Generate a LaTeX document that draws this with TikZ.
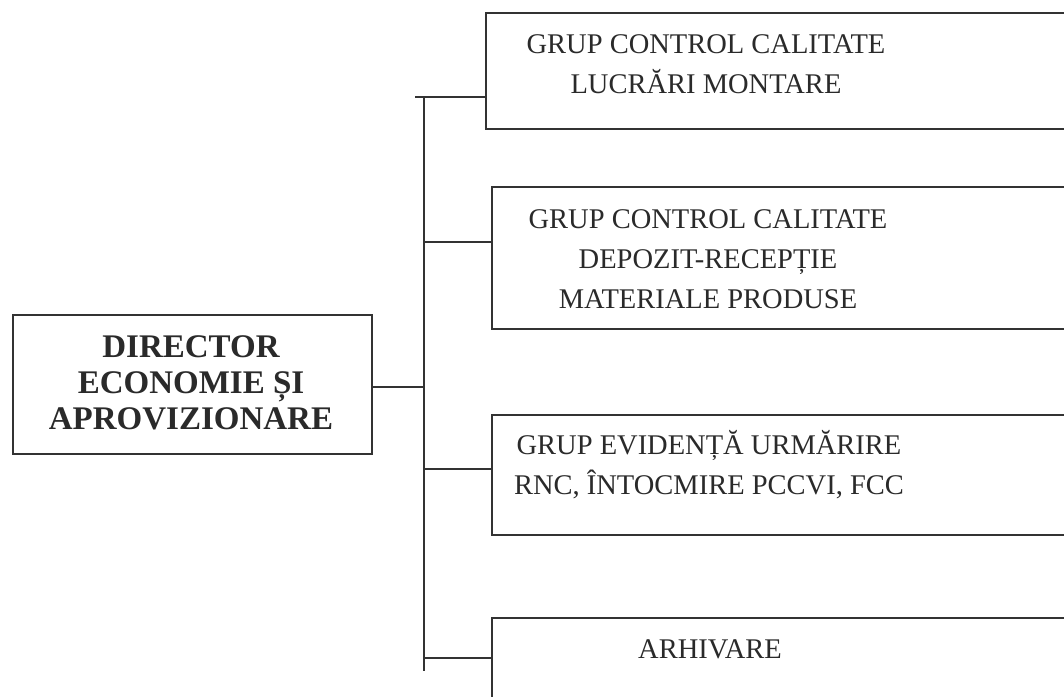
\documentclass[tikz,border=0pt]{standalone}
\usepackage{fontspec}
\setmainfont{Liberation Serif}
\definecolor{ink}{HTML}{333333}
\definecolor{txt}{HTML}{2A2A2A}
\tikzset{
  boxline/.style={draw=ink, line width=1.5pt},
  orgbox/.style={boxline, rectangle, inner sep=0pt, anchor=north west},
  dirtext/.style={text=txt, align=center, font=\fontsize{33}{36}\selectfont\bfseries},
  grptext/.style={text=txt, align=center, font=\fontsize{28.5}{40}\selectfont},
  link/.style={draw=ink, line width=1.5pt}
}
\begin{document}
\begin{tikzpicture}[x=1pt,y=-1pt]
\useasboundingbox[fill=white] (0,0) rectangle (1064,696);
\clip (0,0) rectangle (1064,696);
% director
\node[orgbox, minimum width=359pt, minimum height=139pt] (dir) at (12,314) {};
\node[dirtext] (dirt) at (191,383) {DIRECTOR\\ECONOMIE ȘI\\APROVIZIONARE};
% groups
\node[orgbox, minimum width=620pt, minimum height=116pt] (g1) at (485,12) {};
\node[grptext] (g1t) at (706,64) {GRUP CONTROL CALITATE\\LUCRĂRI MONTARE};
\node[orgbox, minimum width=620pt, minimum height=142pt] (g2) at (491,186) {};
\node[grptext] (g2t) at (708,259) {GRUP CONTROL CALITATE\\DEPOZIT-RECEPȚIE\\MATERIALE PRODUSE};
\node[orgbox, minimum width=620pt, minimum height=120pt] (g3) at (491,414) {};
\node[grptext] (g3t) at (709,465) {GRUP EVIDENȚĂ URMĂRIRE\\RNC, ÎNTOCMIRE PCCVI, FCC};
\node[orgbox, minimum width=620pt, minimum height=120pt] (g4) at (491,617) {};
\node[grptext] (g4t) at (710,649) {ARHIVARE};
% bus
\coordinate (btop) at (424,97);
\coordinate (bbot) at (424,671);
\coordinate (tick) at (415,97);
\coordinate (b2) at (424,242);
\coordinate (b3) at (424,469);
\coordinate (b4) at (424,658);
\coordinate (bd) at (424,387);
\draw[link] (btop) -- (bbot);
\draw[link] (tick) -- (tick -| g1.west);
\draw[link] (b2) -- (b2 -| g2.west);
\draw[link] (b3) -- (b3 -| g3.west);
\draw[link] (b4) -- (b4 -| g4.west);
\draw[link] (bd -| dir.east) -- (bd);
\end{tikzpicture}
\end{document}
